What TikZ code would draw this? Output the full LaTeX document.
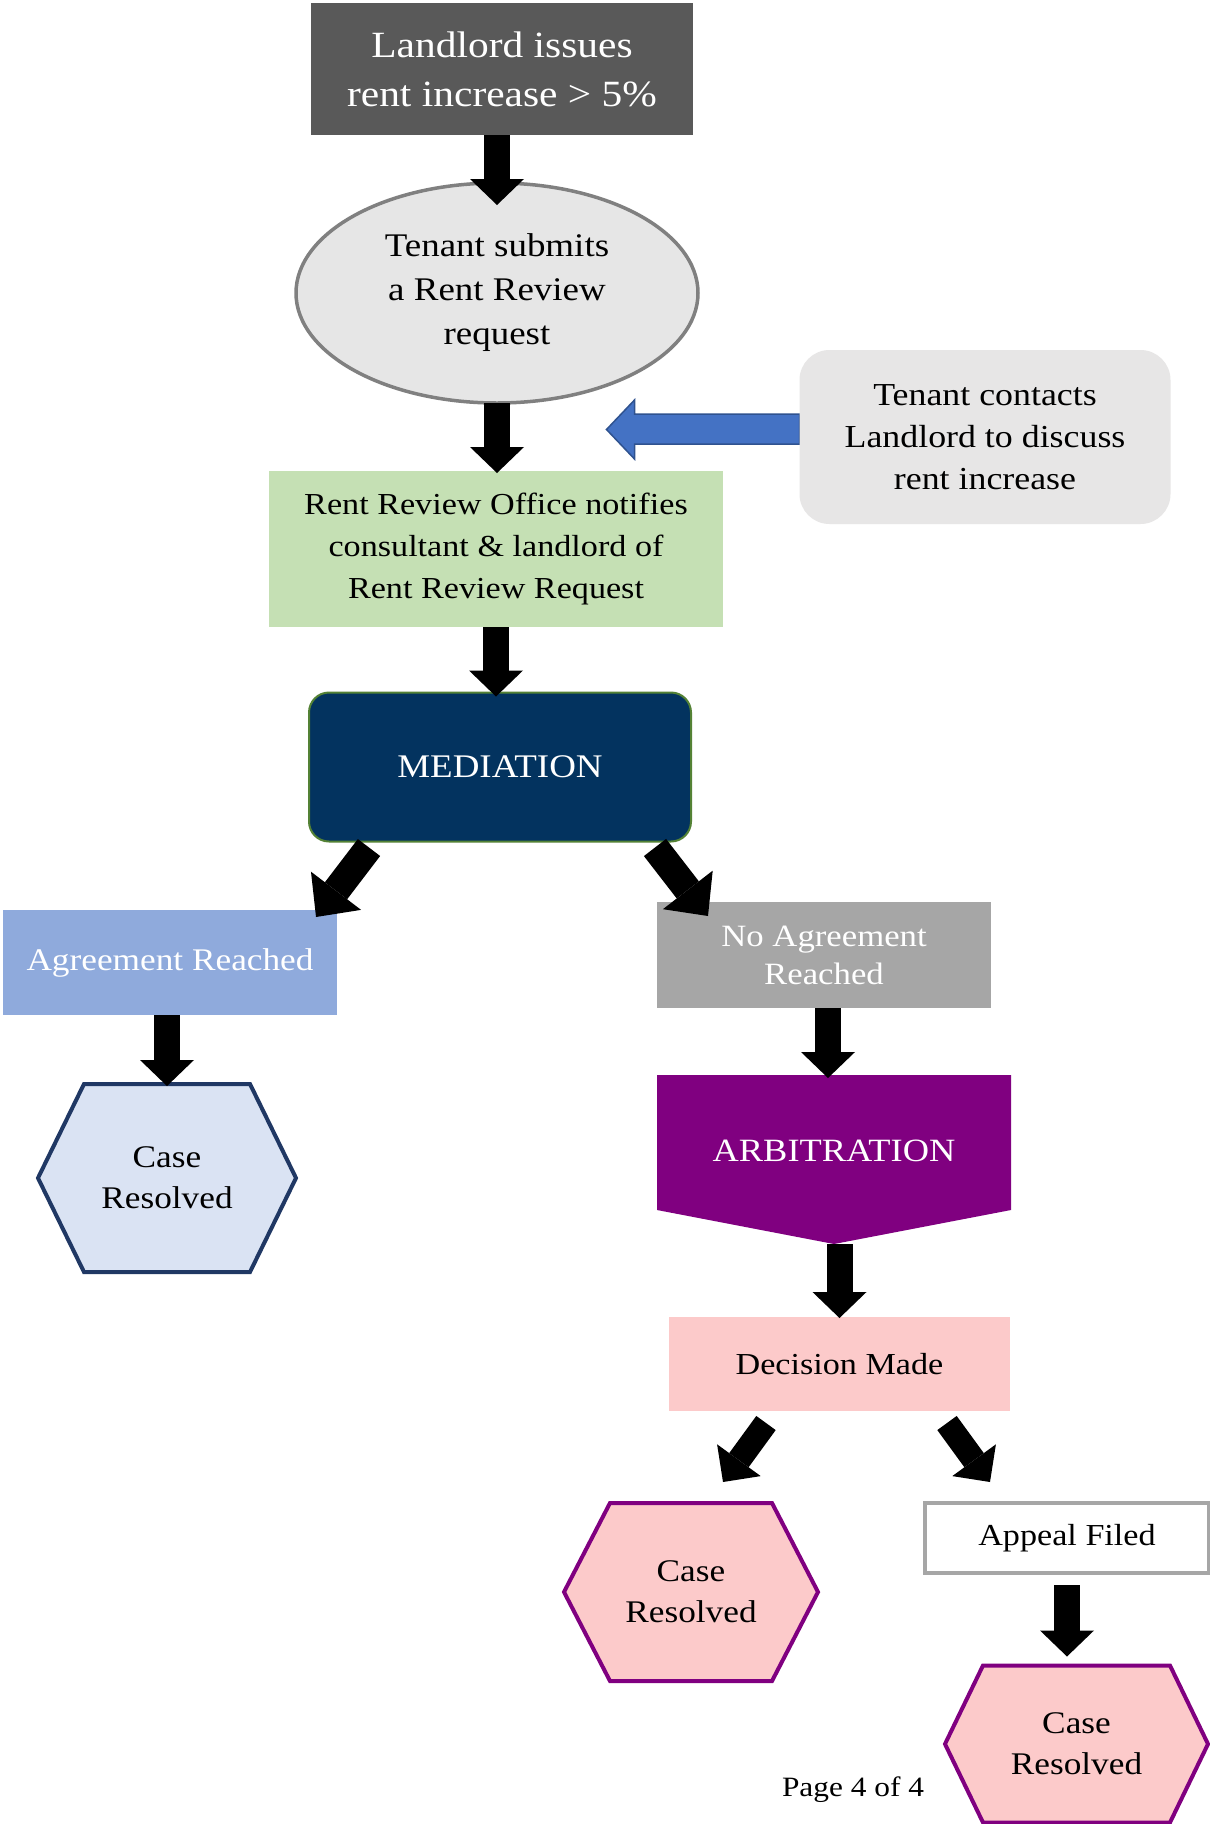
\documentclass[tikz,border=0pt]{standalone}
\usepackage{fontspec}
\setmainfont[FakeStretch=1.12]{Liberation Serif}
\usepackage{tikz}
\usetikzlibrary{arrows.meta,shapes.geometric,backgrounds,calc}

\definecolor{landfill}{HTML}{595959}
\definecolor{ellfill}{HTML}{E6E6E6}
\definecolor{ellline}{HTML}{808080}
\definecolor{notifyfill}{HTML}{C5E0B4}
\definecolor{contactfill}{HTML}{E7E6E6}
\definecolor{arrowblue}{HTML}{4472C4}
\definecolor{arrowblueline}{HTML}{2F528F}
\definecolor{medfill}{HTML}{03335F}
\definecolor{medline}{HTML}{548235}
\definecolor{agreefill}{HTML}{8FAADC}
\definecolor{noagreefill}{HTML}{A6A6A6}
\definecolor{arbfill}{HTML}{800080}
\definecolor{decfill}{HTML}{FCCACA}
\definecolor{hexbluefill}{HTML}{DAE3F3}
\definecolor{hexblueline}{HTML}{203864}
\definecolor{appealline}{HTML}{A6A6A6}

\tikzset{
  box/.style={rectangle, inner sep=0pt, outer sep=0pt, align=center},
  casetext/.style={box, font=\fontsize{31.5}{41}\selectfont},
  hexblue/.style={fill=hexbluefill, draw=hexblueline, line width=4pt},
  hexpink/.style={fill=decfill, draw=arbfill, line width=4pt},
  blk/.style={line width=26pt, -{Triangle[width=54pt,length=26pt,line width=0pt]}},
  blkd/.style={line width=28pt, -{Triangle[width=63pt,length=33pt,line width=0pt]}},
  blks/.style={line width=24pt, -{Triangle[width=54pt,length=27pt,line width=0pt]}},
  bluearrow/.style={fill=arrowblue, draw=arrowblueline, line width=1.5pt}
}

% hexagon behind a node: node, point inset, style
\newcommand{\hexa}[3]{%
  \begin{pgfonlayer}{background}
    \draw[#3] ($(#1.north west)+(#2,0)$) -- ($(#1.north east)+(-#2,0)$) -- (#1.east)
      -- ($(#1.south east)+(-#2,0)$) -- ($(#1.south west)+(#2,0)$) -- (#1.west) -- cycle;
  \end{pgfonlayer}}

\begin{document}
\begin{tikzpicture}[x=1pt,y=-1pt]
  \useasboundingbox (0,0) rectangle (1210,1824);
  \begin{pgfonlayer}{background}
    \fill[white] (0,0) rectangle (1210,1824);
  \end{pgfonlayer}

  %main column
  \node[box, fill=landfill, text=white, minimum width=382pt, minimum height=132pt,
    font=\fontsize{37}{49}\selectfont] (landlord) at (502,69) {Landlord issues\\rent increase > 5\%};
  \node[ellipse, inner sep=0pt, outer sep=0pt, align=center, fill=ellfill, draw=ellline, line width=3.5pt,
    minimum width=402pt, minimum height=220pt, font=\fontsize{33}{44}\selectfont] (submit) at (497,293)
    {Tenant submits\\a Rent Review\\request};
  \node[box, fill=notifyfill, minimum width=454pt, minimum height=156pt,
    font=\fontsize{30.5}{42}\selectfont] (notify) at (496,549)
    {Rent Review Office notifies\\consultant \& landlord of\\Rent Review Request};
  \node[box, fill=contactfill, rounded corners=30pt, minimum width=371pt, minimum height=174pt,
    font=\fontsize{32}{42}\selectfont] (contact) at (985,437)
    {Tenant contacts\\Landlord to discuss\\rent increase};
  \node[box, fill=medfill, draw=medline, line width=2pt, rounded corners=20pt, text=white,
    minimum width=382pt, minimum height=149pt, font=\fontsize{33}{42}\selectfont] (mediation) at (500,767) {MEDIATION};

  %two outcomes
  \node[box, fill=agreefill, text=white, minimum width=334pt, minimum height=105pt,
    font=\fontsize{31.5}{38}\selectfont] (agree) at (170,962.5) {Agreement Reached};
  \node[box, fill=noagreefill, text=white, minimum width=334pt, minimum height=106pt,
    font=\fontsize{31}{38}\selectfont] (noagree) at (824,955) {No Agreement\\Reached};
  \node[casetext, minimum width=258pt, minimum height=188pt] (caseA) at (167,1178) {Case\\Resolved};
  \hexa{caseA}{46}{hexblue}

  %arbitration
  \node[box, text=white, minimum width=354pt, minimum height=135pt, text height=37pt, text depth=0pt,
    font=\fontsize{32.5}{40}\selectfont] (arb) at (834,1142.5) {ARBITRATION};
  \begin{pgfonlayer}{background}
    \fill[arbfill] (arb.north west) -- (arb.north east) -- (arb.south east)
      -- ($(arb.south)+(0,34)$) -- (arb.south west) -- cycle;
  \end{pgfonlayer}
  \node[box, fill=decfill, minimum width=341pt, minimum height=94pt,
    font=\fontsize{30.5}{38}\selectfont] (decision) at (839.5,1364) {Decision Made};
  \node[casetext, minimum width=254pt, minimum height=178pt] (caseB) at (691,1592) {Case\\Resolved};
  \hexa{caseB}{46}{hexpink}
  \node[box, fill=white, draw=appealline, line width=4pt, minimum width=284pt, minimum height=70pt,
    font=\fontsize{30.5}{38}\selectfont] (appeal) at (1067,1538) {Appeal Filed};
  \node[casetext, minimum width=263pt, minimum height=157pt] (caseC) at (1076.5,1744) {Case\\Resolved};
  \hexa{caseC}{38}{hexpink}

  \node[box, font=\fontsize{28}{34}\selectfont] (page) at (853,1790) {Page 4 of 4};

  %arrows
  \begin{pgfonlayer}{background}
    \draw[bluearrow] ($(contact.west)+(0,-23)$) -- ++(-165,0) -- ++(0,-14) -- ++(-28,29.5)
      -- ++(28,29.5) -- ++(0,-15) -- ++(165,0) -- cycle;
  \end{pgfonlayer}
  \draw[blk] (submit.north |- landlord.south) -- ($(submit.north)+(0,22)$);
  \draw[blk] (submit.south) -- ($(submit.south |- notify.north)+(0,2)$);
  \draw[blk] (notify.south) -- ($(notify.south |- mediation.north)+(0,4)$);
  \draw[blkd] ($(mediation.south west)+(60,6)$) -- ($(agree.north east)+(-21,7)$);
  \draw[blkd] ($(mediation.south east)+(-36,6)$) -- ($(noagree.north west)+(51,14)$);
  \draw[blk] (caseA.north |- agree.south) -- ($(caseA.north)+(0,2)$);
  \draw[blk] ($(noagree.south)+(4,0)$) -- ($(noagree.south |- arb.north)+(4,3)$);
  \draw[blk] ($(decision.north |- arb.south)+(0,34)$) -- ($(decision.north)+(0,1)$);
  \draw[blks] ($(decision.south)+(-73.5,12)$) -- ($(caseB.north)+(32,-21)$);
  \draw[blks] ($(decision.south)+(107.5,12)$) -- ($(appeal.north)+(-77,-21)$);
  \draw[blk] ($(appeal.south)+(0,12)$) -- ($(caseC.north -| appeal.south)+(0,-9)$);
\end{tikzpicture}
\end{document}
